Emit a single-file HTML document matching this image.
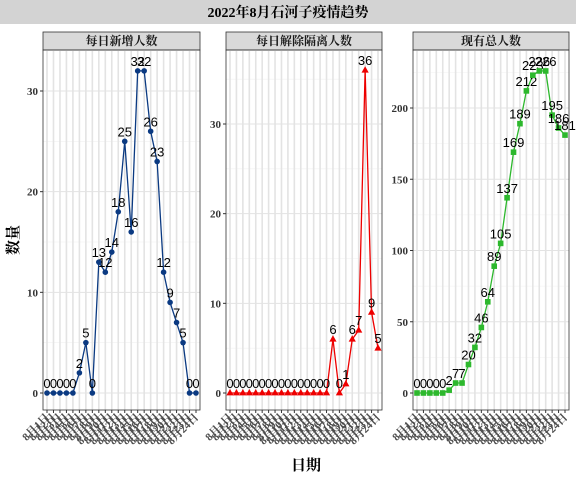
<!DOCTYPE html>
<html><head><meta charset="utf-8"><style>
body{margin:0;background:#fff}
svg{display:block;font-family:"Liberation Sans","Noto Sans CJK SC",sans-serif}
</style></head><body>
<svg id="chart" width="576" height="480">
<rect x="0" y="0" width="576" height="24" fill="#d3d3d3"/>
<text x="288" y="17" text-anchor="middle" font-size="14" font-weight="bold" font-family="Liberation Serif,Noto Serif CJK SC,serif">2022年8月石河子疫情趋势</text>
<text x="18" y="240" transform="rotate(-90 18 240)" text-anchor="middle" font-size="15" font-weight="bold" font-family="Liberation Serif,Noto Serif CJK SC,serif">数量</text>
<text x="306" y="470" text-anchor="middle" font-size="15" font-weight="bold" font-family="Liberation Serif,Noto Serif CJK SC,serif">日期</text>
</svg>
<script>
const categories = ["8月1日","8月2日","8月3日","8月4日","8月5日","8月6日","8月7日","8月8日","8月9日","8月10日","8月11日","8月12日","8月13日","8月14日","8月15日","8月16日","8月17日","8月18日","8月19日","8月20日","8月21日","8月22日","8月23日","8月24日"];
const newCases = [0,0,0,0,0,2,5,0,13,12,14,18,25,16,32,32,26,23,12,9,7,5,0,0];
const released = [0,0,0,0,0,0,0,0,0,0,0,0,0,0,0,0,6,0,1,6,7,36,9,5];
const currentTotal = [0,0,0,0,0,2,7,7,20,32,46,64,89,105,137,169,189,212,223,226,226,195,186,181];
const ticks1 = [0,10,20,30];
const ticks2 = [0,10,20,30];
const ticks3 = [0,50,100,150,200];
const panelTitles = ["每日新增人数","每日解除隔离人数","现有总人数"];

const NS="http://www.w3.org/2000/svg";
const svg=document.getElementById('chart');
function mk(tag,attrs,parent){const e=document.createElementNS(NS,tag);for(const k in attrs)e.setAttribute(k,attrs[k]);(parent||svg).appendChild(e);return e;}

const panels=[
 {x0:43,x1:200,vals:newCases,ticks:ticks1,minor:5,color:"#0b3a82",shape:"circle",name:"new-cases"},
 {x0:226,x1:382,vals:released,ticks:ticks2,minor:5,color:"#ee0000",shape:"tri",name:"released"},
 {x0:413,x1:569,vals:currentTotal,ticks:ticks3,minor:25,color:"#2db82d",shape:"square",name:"current-total"}
];
const yTop=50,yBot=410,y0px=393;
const ymaxPx=[91,124,108];
panels.forEach((p,pi)=>{
  const n=categories.length;
  const xs=i=>p.x0+4+i*(p.x1-p.x0-8)/(n-1);
  const topTick=p.ticks[p.ticks.length-1];
  const unit=(y0px-ymaxPx[pi])/topTick;
  const ys=v=>y0px-v*unit;
  const g=mk('g',{});
  
  
  const strip=mk('rect',{x:p.x0,y:32,width:p.x1-p.x0,height:18,fill:'#d9d9d9',stroke:'#333','stroke-width':0.8},g);
  
  
  const st=mk('text',{x:(p.x0+p.x1)/2,y:45,'text-anchor':'middle','font-size':12,'font-weight':'bold',fill:'#1a1a1a','font-family':'Liberation Serif,Noto Serif CJK SC,serif'},g);
  st.textContent=panelTitles[pi];
  
  
  for(let v=p.minor;ys(v)>yTop;v+=p.minor*2){mk('line',{x1:p.x0,x2:p.x1,y1:ys(v),y2:ys(v),stroke:'#f0f0f0','stroke-width':0.6},g);}
  p.ticks.forEach(t=>{
    mk('line',{x1:p.x0,x2:p.x1,y1:ys(t),y2:ys(t),stroke:'#e3e3e3','stroke-width':1},g);
    mk('line',{x1:p.x0-3,x2:p.x0,y1:ys(t),y2:ys(t),stroke:'#333','stroke-width':1},g);
    const tl=mk('text',{x:p.x0-5,y:ys(t)+4,'text-anchor':'end','font-size':11,'font-weight':'bold',fill:'#333','font-family':'Liberation Serif,serif'},g);
    tl.textContent=t;
    
    
  });
  categories.forEach((c,i)=>{
    mk('line',{x1:xs(i),x2:xs(i),y1:yTop,y2:yBot,stroke:'#e3e3e3','stroke-width':1.6},g);
    mk('line',{x1:xs(i),x2:xs(i),y1:yBot,y2:yBot+3,stroke:'#333','stroke-width':1},g);
    const xl=mk('text',{x:xs(i)+3,y:yBot+8,'text-anchor':'end','font-size':11,'font-weight':'bold',fill:'#4d4d4d','font-family':'Liberation Serif,Noto Serif CJK SC,serif',transform:`rotate(-45 ${xs(i)+3} ${yBot+8})`},g);
    xl.textContent=c;
    
    
  });
  mk('rect',{x:p.x0,y:yTop,width:p.x1-p.x0,height:yBot-yTop,fill:'none',stroke:'#333','stroke-width':0.8},g);
  const line=mk('polyline',{points:p.vals.map((v,i)=>xs(i)+','+ys(v)).join(' '),fill:'none',stroke:p.color,'stroke-width':1.3},g);
  
  
  p.vals.forEach((v,i)=>{
    const x=xs(i),y=ys(v);let m;
    if(p.shape==='circle')m=mk('circle',{cx:x,cy:y,r:2.8,fill:p.color},g);
    else if(p.shape==='tri')m=mk('polygon',{points:`${x},${y-4} ${x-3.6},${y+2.4} ${x+3.6},${y+2.4}`,fill:p.color},g);
    else m=mk('rect',{x:x-2.8,y:y-2.8,width:5.6,height:5.6,fill:p.color},g);
    
    
    const lb=mk('text',{x:x,y:y-5,'text-anchor':'middle','font-size':13,fill:'#000'},g);
    lb.textContent=v;
    
    
  });
});
</script>
</body></html>
